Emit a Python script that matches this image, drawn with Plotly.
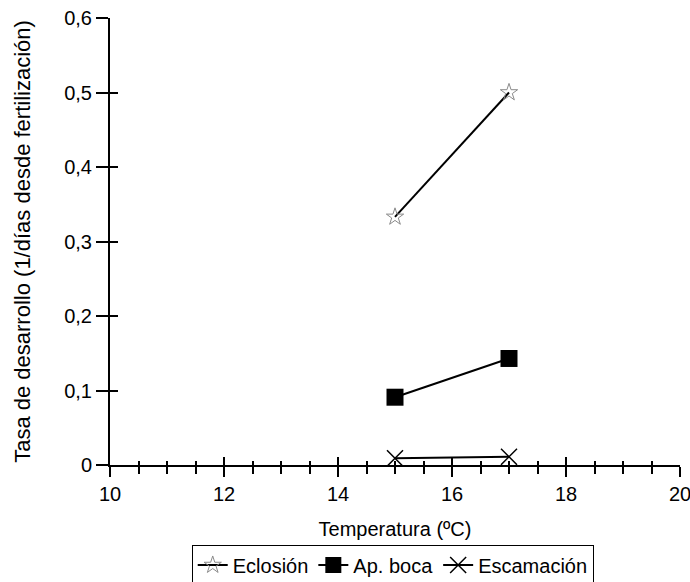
import plotly.graph_objects as go

temperatura = [15, 17]
eclosion = [0.333, 0.5]
ap_boca = [0.091, 0.143]
escamacion = [0.009, 0.011]

x_range = [10, 20]
y_range = [0, 0.6]
x_ticks = [10, 12, 14, 16, 18, 20]
y_ticks = [0, 0.1, 0.2, 0.3, 0.4, 0.5, 0.6]

FONT = "Liberation Sans, Arial, sans-serif"

fig = go.Figure()
fig.add_trace(go.Scatter(
    x=temperatura, y=eclosion, name="Eclosión", mode="lines+markers",
    line=dict(color="black", width=2),
    marker=dict(symbol="star-open", size=13, color="#8a8a8a", line=dict(width=1, color="#8a8a8a")),
))
fig.add_trace(go.Scatter(
    x=temperatura, y=ap_boca, name="Ap. boca", mode="lines+markers",
    line=dict(color="black", width=2),
    marker=dict(symbol="square", size=17, color="black"),
))
fig.add_trace(go.Scatter(
    x=temperatura, y=escamacion, name="Escamación", mode="lines+markers",
    line=dict(color="black", width=2),
    marker=dict(symbol="x-thin-open", size=16, color="black", line=dict(width=1.5, color="black")),
))
# dummy trace to activate overlay axes (inside ticks)
fig.add_trace(go.Scatter(x=[None], y=[None], xaxis="x2", yaxis="y2",
                         showlegend=False, hoverinfo="skip"))

tickfont = dict(family=FONT, size=20, color="black")

fig.update_layout(
    width=690, height=582,
    margin=dict(l=110, r=10, t=18, b=117, autoexpand=False),
    paper_bgcolor="white", plot_bgcolor="white",
    separators=",.",
    font=dict(family=FONT, size=20, color="black"),
    showlegend=True,
    xaxis=dict(
        range=x_range, tickvals=x_ticks, showgrid=False, zeroline=False,
        showline=True, linecolor="black", linewidth=2,
        ticks="outside", ticklen=10, tickwidth=2, tickcolor="black",
        minor=dict(dtick=0.5, tick0=10, ticks="outside", ticklen=7, tickwidth=2, tickcolor="black", showgrid=False),
        tickfont=tickfont, ticklabeloverflow="allow", automargin=False,
        title=dict(text="Temperatura (ºC)", font=dict(family=FONT, size=20), standoff=18),
        fixedrange=True,
    ),
    yaxis=dict(
        range=y_range, tickvals=y_ticks, showgrid=False, zeroline=False,
        showline=True, linecolor="black", linewidth=2,
        ticks="outside", ticklen=12, tickwidth=2, tickcolor="black",
        tickfont=tickfont, ticklabeloverflow="allow", automargin=False,
        title=dict(text="Tasa de desarrollo (1/días desde fertilización)", font=dict(family=FONT, size=22), standoff=27),
        fixedrange=True,
    ),
    xaxis2=dict(
        overlaying="x", anchor="y", side="bottom", range=x_range, tickvals=x_ticks,
        showgrid=False, zeroline=False, showline=False, showticklabels=False,
        ticks="inside", ticklen=8, tickwidth=2, tickcolor="black",
        minor=dict(dtick=0.5, tick0=10, ticks="inside", ticklen=4, tickwidth=2, tickcolor="black", showgrid=False),
        fixedrange=True, automargin=False,
    ),
    yaxis2=dict(
        overlaying="y", anchor="x", side="left", range=y_range, tickvals=y_ticks,
        showgrid=False, zeroline=False, showline=False, showticklabels=False,
        ticks="inside", ticklen=8, tickwidth=2, tickcolor="black",
        fixedrange=True, automargin=False,
    ),
    legend=dict(
        orientation="h", x=0.496, xanchor="center", y=-0.178, yanchor="top",
        bordercolor="black", borderwidth=1, font=dict(family=FONT, size=20),
        itemwidth=30, tracegroupgap=0,
    ),
)

fig.write_html("out.html")
